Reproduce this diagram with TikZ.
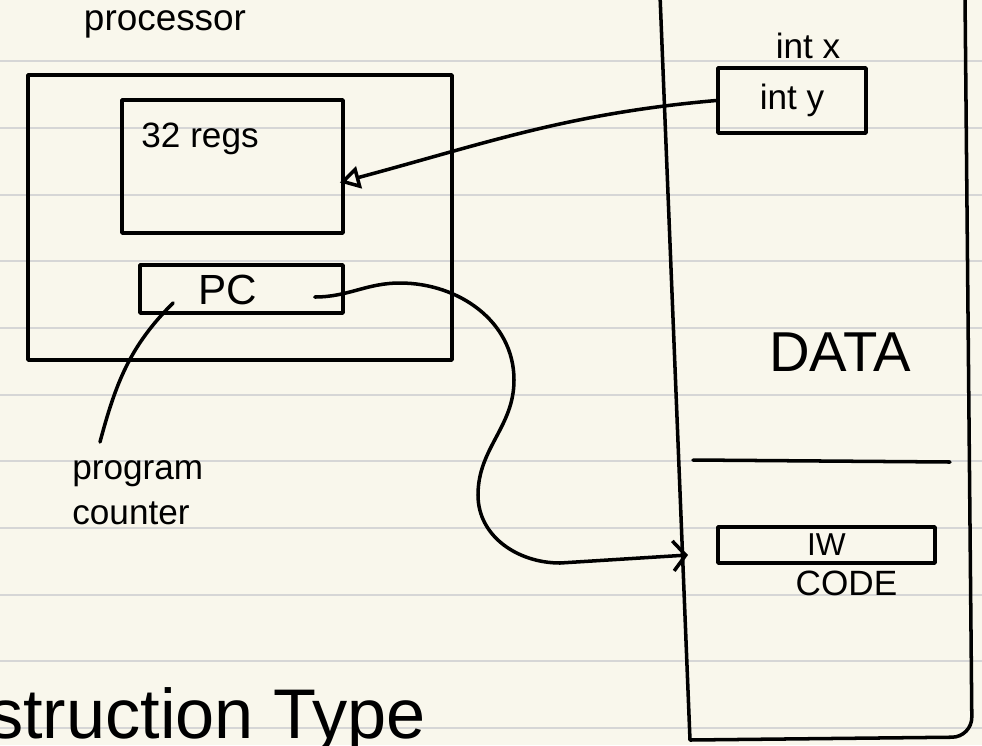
\documentclass[tikz,border=0pt]{standalone}
\usepackage{fontspec}
\setmainfont{Liberation Sans}
\usetikzlibrary{arrows.meta,calc}
\definecolor{paper}{HTML}{F9F7EC}
\definecolor{ruling}{HTML}{D6D6D6}
\newcommand{\pen}[1]{\fontsize{#1}{#1}\selectfont}
\tikzset{
  ink/.style={line width=2pt, line cap=round, line join=round},
  box/.style={ink, draw, inner sep=0pt},
}

\begin{document}
\begin{tikzpicture}[x=0.2mm, y=-0.2mm]
        \useasboundingbox (0,0) rectangle (982,745);
        \fill[paper] (0,0) rectangle (982,745);
        \clip (0,0) rectangle (982,745);
        \foreach \k in {0,...,10}
                \draw[ruling, line width=1.3pt] (0,61.3+66.67*\k) -- (982,61.3+66.67*\k);

        % processor with its registers and the PC
        \node (N) [font=\pen{21pt}] at (165,24) {processor};
        \node (P) [box, minimum width=84.8mm, minimum height=57mm] at (240,217.5) {};
        \node (R) [box, minimum width=44.2mm, minimum height=26.6mm] at (232.5,166.5) {};
        \node (G) [anchor=north west, font=\pen{20pt}] at ($(R.north west)+(15,18)$) {32 regs};
        \node (PC) [box, minimum width=40.6mm, minimum height=9.6mm] at (241.5,289) {};
        \node [font=\pen{24pt}] at (228,290) {PC};
        \node (L) [anchor=north west, align=left, inner sep=0pt, font=\pen{20pt}] at (72,460) {program\\[6pt]counter};

        % memory column
        \draw[ink] (660,-5) -- (690,740) [rounded corners=4mm] -- (972,737) -- (965,-5);
        \draw[ink] (693,460) -- (950,462);
        \coordinate (M) at (688,555);
        \node (X) [font=\pen{20pt}] at (808,46) {int x};
        \node (Y) [box, minimum width=29.6mm, minimum height=13mm, font=\pen{20pt}] at (792,100.5) {int y};
        \node (D) [font=\pen{32pt}] at (840,352) {DATA};
        \node (IW) [box, minimum width=43.4mm, minimum height=7.2mm, font=\pen{18pt}] at (826.5,545) {IW};
        \node (C) [anchor=north, font=\pen{20pt}, xshift=4mm] at (IW.south) {CODE};

        \node (T) [anchor=base east, font=\pen{40pt}] at (432,738) {Instruction Type};

        % pointers
        \draw[ink, -{Triangle[open,length=4mm,width=4.5mm]}] (Y.west) to[out=185, in=15] ($(R.east)+(-5,16)$);
        \draw[ink, -{Straight Barb[length=2.5mm,width=6mm]}] ($(PC.east)+(-30,8)$)
                to[out=0, in=180] (400,283) to[out=0, in=90] (514,380)
                to[out=-90, in=90] (478,495) to[out=-90, in=180] (560,563) -- (M);
        \draw[ink] ($(L.north west)+(28,-18)$) to[out=75, in=225] ($(PC.south west)+(35,-12)$);
\end{tikzpicture}
\end{document}
